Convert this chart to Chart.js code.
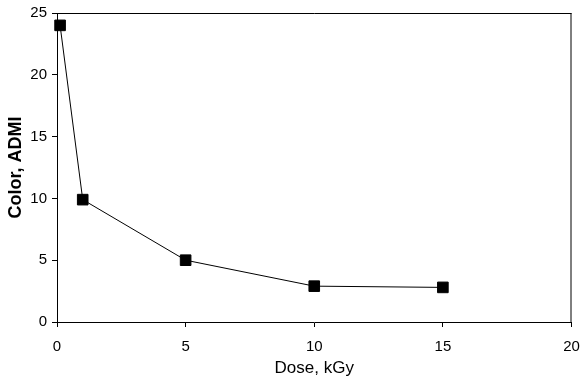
<!DOCTYPE html>
<html><head><meta charset="utf-8">
<script src="https://cdn.jsdelivr.net/npm/chart.js@4"></script>
<style>html,body{margin:0;padding:0;background:#fff}#w{width:580px;height:386px}</style>
</head><body><div id="w"><canvas id="c"></canvas></div>
<script>
const doses = [0.12, 1, 5, 10, 15];
const colorADMI = [24.0, 9.9, 5.0, 2.9, 2.8];
const xTicks = [0, 5, 10, 15, 20];
const yTicks = [0, 5, 10, 15, 20, 25];

const borderBox = {
  id: 'borderBox',
  afterDraw(chart) {
    const a = chart.chartArea, c = chart.ctx;
    c.save(); c.strokeStyle = '#000'; c.lineWidth = 1;
    c.beginPath();
    c.moveTo(a.left, a.top + 0.5); c.lineTo(a.right, a.top + 0.5);
    c.moveTo(a.right - 0.5, a.top); c.lineTo(a.right - 0.5, a.bottom);
    c.stroke(); c.restore();
  }
};

Chart.defaults.font.family = '"Liberation Sans", Arial, sans-serif';
Chart.defaults.color = '#000';

new Chart(document.getElementById('c'), {
  type: 'scatter',
  data: {
    datasets: [{
      data: doses.map((d, i) => ({x: d, y: colorADMI[i]})),
      showLine: true,
      borderColor: '#000',
      borderWidth: 1,
      backgroundColor: '#000',
      pointStyle: 'rect',
      pointRadius: 7.5,
      pointHoverRadius: 7.5,
      clip: false
    }]
  },
  options: {
    responsive: true, maintainAspectRatio: false, animation: false,
    devicePixelRatio: 1,
    layout: {padding: {left: 0, right: 6, top: 13, bottom: 0}},
    plugins: {legend: {display: false}, tooltip: {enabled: false}},
    scales: {
      x: {
        type: 'linear', min: 0, max: 20,
        afterBuildTicks: s => { s.ticks = xTicks.map(v => ({value: v})); },
        afterFit: s => { s.height = 64; s.paddingLeft = 0; s.paddingRight = 0; },
        border: {display: true, color: '#000', width: 1},
        grid: {drawOnChartArea: false, drawTicks: true, tickLength: 5, color: '#000'},
        ticks: {font: {size: 15}, padding: 11, maxRotation: 0},
        title: {display: true, text: 'Dose, kGy', font: {size: 17}, padding: {top: 0, bottom: 7}}
      },
      y: {
        type: 'linear', min: 0, max: 25,
        afterBuildTicks: s => { s.ticks = yTicks.map(v => ({value: v})); },
        afterFit: s => { s.width = 57; s.paddingTop = 0; s.paddingBottom = 0; },
        border: {display: true, color: '#000', width: 1},
        grid: {drawOnChartArea: false, drawTicks: true, tickLength: 5, color: '#000'},
        ticks: {font: {size: 15}, padding: 5},
        title: {display: true, text: 'Color, ADMI', font: {size: 18, weight: 'bold'}, padding: {top: 5, bottom: 0}}
      }
    }
  },
  plugins: [borderBox]
});
</script></body></html>
